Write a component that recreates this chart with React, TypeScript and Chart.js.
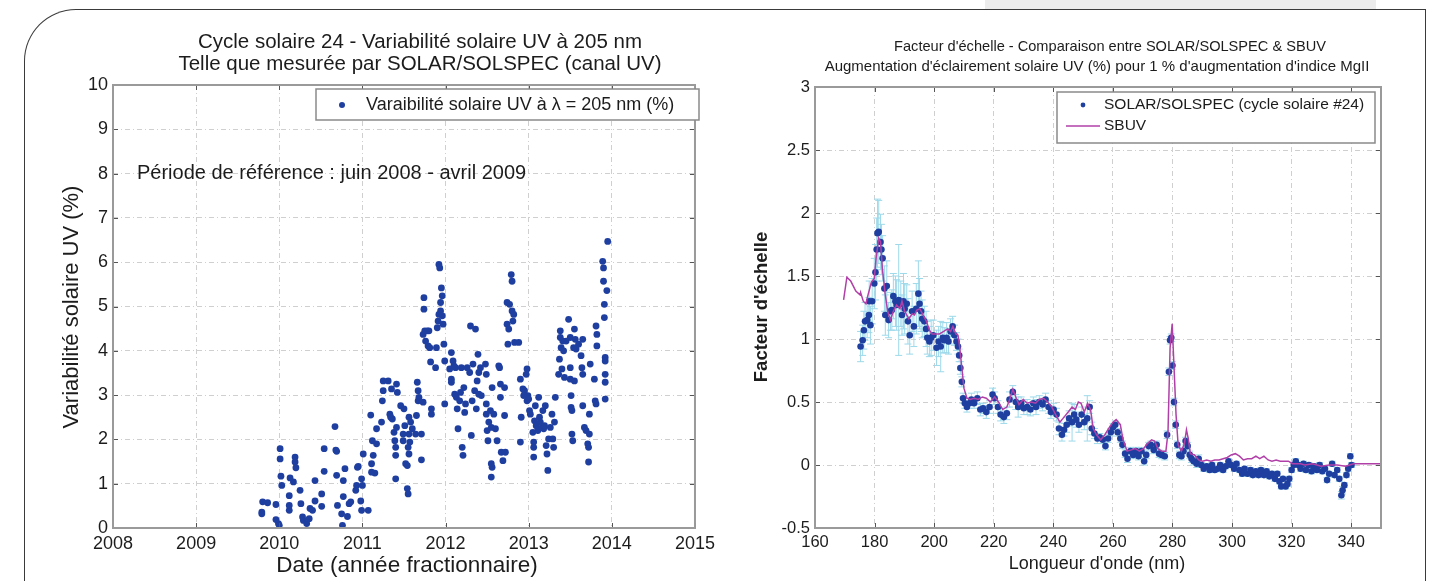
import React, { useEffect, useRef } from "react";
import { Chart, registerables } from "chart.js";
Chart.register(...registerables);

const FONT = '"Liberation Sans", Arial, Helvetica, sans-serif';

// ---------- Left chart data ----------
const leftTitle = ["Cycle solaire 24 - Variabilité solaire UV à 205 nm", "Telle que mesurée par SOLAR/SOLSPEC (canal UV)"];
const leftLegend = "Varaibilité solaire UV à λ = 205 nm (%)";
const leftNote = "Période de référence : juin 2008 - avril 2009";
const leftXTitle = "Date (année fractionnaire)";
const leftYTitle = "Variabilité solaire UV (%)";
const yearTicks = [2008, 2009, 2010, 2011, 2012, 2013, 2014, 2015];
const uvTicks = [0, 1, 2, 3, 4, 5, 6, 7, 8, 9, 10];

const uvSeries: [number, number][] = [
  [2009.79, 0.36], [2009.79, 0.32], [2009.8, 0.59], [2009.86, 0.57], [2009.96, 0.53], [2009.96, 0.19], [2009.99, 0.1], [2010.0, 0.06],
  [2010.01, 1.79], [2010.01, 1.56], [2010.02, 1.17], [2010.03, 0.96], [2010.12, 0.73], [2010.12, 0.51], [2010.12, 0.4], [2010.13, 1.13],
  [2010.17, 1.04], [2010.19, 1.6], [2010.19, 1.49], [2010.2, 1.36], [2010.25, 0.85], [2010.26, 0.55], [2010.28, 0.25], [2010.29, 0.17],
  [2010.33, 0.1], [2010.36, 0.21], [2010.37, 0.44], [2010.4, 0.4], [2010.43, 0.61], [2010.43, 1.07], [2010.51, 0.49], [2010.51, 0.77],
  [2010.54, 1.79], [2010.54, 1.28], [2010.67, 2.29], [2010.68, 1.76], [2010.69, 1.73], [2010.69, 1.19], [2010.7, 0.51], [2010.75, 0.32],
  [2010.76, 0.06], [2010.77, 0.71], [2010.77, 1.07], [2010.79, 1.34], [2010.82, 0.26], [2010.84, 0.55], [2010.86, 0.59], [2010.92, 0.85],
  [2010.93, 0.96], [2010.94, 1.37], [2010.95, 1.39], [2010.98, 0.61], [2010.99, 0.4], [2010.99, 1.11], [2011.0, 0.96], [2011.01, 1.67],
  [2011.07, 0.4], [2011.1, 2.55], [2011.11, 1.45], [2011.11, 1.26], [2011.12, 1.97], [2011.13, 1.64], [2011.15, 1.24], [2011.17, 1.9],
  [2011.17, 2.24], [2011.23, 2.39], [2011.24, 2.87], [2011.25, 3.32], [2011.25, 3.1], [2011.31, 3.32], [2011.33, 2.57], [2011.34, 2.5],
  [2011.35, 3.14], [2011.36, 2.46], [2011.38, 2.16], [2011.39, 1.97], [2011.4, 1.82], [2011.4, 1.64], [2011.4, 1.11], [2011.41, 2.27],
  [2011.41, 3.25], [2011.42, 3.06], [2011.46, 2.76], [2011.49, 2.12], [2011.49, 1.97], [2011.5, 2.69], [2011.51, 2.31], [2011.52, 1.45],
  [2011.54, 1.41], [2011.54, 0.89], [2011.55, 0.77], [2011.55, 1.82], [2011.56, 1.67], [2011.56, 2.5], [2011.56, 2.12], [2011.57, 1.94],
  [2011.58, 2.39], [2011.6, 2.24], [2011.64, 2.12], [2011.65, 2.54], [2011.66, 3.29], [2011.67, 3.1], [2011.67, 2.87], [2011.68, 2.95],
  [2011.71, 1.54], [2011.71, 2.12], [2011.73, 2.84], [2011.73, 4.37], [2011.74, 5.2], [2011.74, 4.94], [2011.75, 4.45], [2011.76, 4.22],
  [2011.78, 4.45], [2011.79, 4.11], [2011.8, 4.45], [2011.81, 4.07], [2011.82, 3.75], [2011.83, 2.57], [2011.83, 2.69], [2011.88, 3.62],
  [2011.89, 4.07], [2011.9, 4.52], [2011.91, 4.67], [2011.92, 4.82], [2011.92, 5.95], [2011.93, 5.87], [2011.94, 5.09], [2011.94, 4.9],
  [2011.95, 5.42], [2011.96, 5.24], [2011.96, 4.79], [2011.97, 4.6], [2011.98, 4.15], [2011.99, 2.8], [2011.99, 3.77], [2012.05, 3.59],
  [2012.07, 3.96], [2012.07, 3.36], [2012.07, 3.29], [2012.09, 3.77], [2012.1, 3.66], [2012.11, 3.02], [2012.12, 3.62], [2012.13, 2.95],
  [2012.14, 2.69], [2012.15, 2.24], [2012.17, 2.87], [2012.18, 3.06], [2012.19, 3.62], [2012.2, 1.82], [2012.21, 1.64], [2012.22, 3.17],
  [2012.23, 2.61], [2012.24, 2.8], [2012.26, 3.62], [2012.29, 3.51], [2012.3, 4.56], [2012.31, 2.09], [2012.32, 2.87], [2012.33, 3.7],
  [2012.35, 3.1], [2012.36, 4.49], [2012.37, 2.69], [2012.38, 3.32], [2012.39, 3.92], [2012.4, 3.51], [2012.4, 3.02], [2012.42, 3.62],
  [2012.43, 2.99], [2012.48, 3.7], [2012.49, 3.47], [2012.49, 2.8], [2012.49, 2.57], [2012.5, 2.2], [2012.51, 1.97], [2012.52, 2.39],
  [2012.54, 2.65], [2012.55, 2.27], [2012.55, 1.45], [2012.55, 1.15], [2012.56, 1.37], [2012.56, 3.17], [2012.58, 2.57], [2012.6, 2.24],
  [2012.62, 1.97], [2012.64, 3.66], [2012.65, 3.62], [2012.66, 2.95], [2012.66, 3.25], [2012.67, 1.71], [2012.69, 1.52], [2012.71, 3.17],
  [2012.71, 2.54], [2012.72, 1.71], [2012.74, 5.09], [2012.74, 4.6], [2012.75, 4.15], [2012.76, 4.49], [2012.77, 5.05], [2012.79, 5.72],
  [2012.8, 5.57], [2012.8, 4.9], [2012.81, 4.67], [2012.82, 4.82], [2012.83, 4.19], [2012.88, 4.19], [2012.9, 3.36], [2012.9, 1.94],
  [2012.91, 2.5], [2012.93, 3.14], [2012.94, 2.99], [2012.95, 3.1], [2012.97, 3.47], [2012.98, 3.59], [2012.98, 2.87], [2012.99, 2.99],
  [2013.0, 2.91], [2013.01, 2.65], [2013.02, 2.57], [2013.05, 2.16], [2013.06, 1.94], [2013.06, 1.82], [2013.06, 1.6], [2013.07, 2.42],
  [2013.08, 2.76], [2013.09, 2.31], [2013.11, 2.2], [2013.12, 2.95], [2013.13, 2.5], [2013.14, 2.39], [2013.16, 2.27], [2013.17, 2.65],
  [2013.18, 2.24], [2013.19, 2.31], [2013.2, 2.76], [2013.21, 1.86], [2013.22, 1.67], [2013.23, 1.3], [2013.24, 2.01], [2013.26, 2.27],
  [2013.28, 2.57], [2013.29, 2.01], [2013.3, 1.82], [2013.31, 2.39], [2013.32, 2.95], [2013.36, 3.47], [2013.37, 3.81], [2013.38, 4.45],
  [2013.38, 4.3], [2013.39, 4.07], [2013.4, 3.59], [2013.41, 4.22], [2013.42, 4.0], [2013.43, 3.4], [2013.45, 4.22], [2013.48, 4.71],
  [2013.5, 4.3], [2013.5, 3.62], [2013.5, 3.36], [2013.51, 2.99], [2013.51, 2.72], [2013.52, 2.65], [2013.52, 2.12], [2013.53, 1.97],
  [2013.54, 4.07], [2013.55, 3.32], [2013.55, 4.49], [2013.56, 4.26], [2013.57, 4.04], [2013.6, 4.15], [2013.63, 3.89], [2013.64, 3.62],
  [2013.65, 3.47], [2013.65, 4.26], [2013.65, 2.76], [2013.67, 2.27], [2013.69, 2.2], [2013.71, 1.9], [2013.72, 1.82], [2013.72, 1.49],
  [2013.73, 2.57], [2013.73, 2.12], [2013.74, 3.7], [2013.79, 3.36], [2013.8, 2.87], [2013.81, 2.8], [2013.81, 4.56], [2013.82, 4.37],
  [2013.82, 4.11], [2013.89, 6.02], [2013.9, 5.87], [2013.9, 5.57], [2013.91, 5.05], [2013.91, 4.75], [2013.92, 3.85], [2013.92, 3.77],
  [2013.92, 3.47], [2013.92, 3.29], [2013.92, 2.91], [2013.94, 5.36], [2013.95, 6.47],
];

// ---------- Right chart data ----------
const rightTitle = ["Facteur d'échelle - Comparaison entre SOLAR/SOLSPEC & SBUV", "Augmentation d'éclairement solaire UV (%) pour 1 % d'augmentation d'indice MgII"];
const rightLegend = ["SOLAR/SOLSPEC (cycle solaire #24)", "SBUV"];
const rightXTitle = "Longueur d'onde (nm)";
const rightYTitle = "Facteur d'échelle";
const nmTicks = [160, 180, 200, 220, 240, 260, 280, 300, 320, 340];
const factorTicks = [-0.5, 0, 0.5, 1, 1.5, 2, 2.5, 3];

// [wavelength nm, scale factor, error]
const solspecSeries: [number, number, number][] = [
  [175.3, 0.94, 0.12], [176.0, 0.99, 0.12], [176.4, 1.07, 0.15], [176.8, 1.14, 0.15], [177.5, 1.15, 0.14], [178.1, 1.19, 0.14],
  [178.2, 1.3, 0.16], [178.6, 1.11, 0.15], [179.2, 1.3, 0.18], [179.9, 1.44, 0.2], [180.3, 1.53, 0.22], [180.7, 1.71, 0.25],
  [181.0, 1.84, 0.27], [181.4, 1.85, 0.25], [182.0, 1.77, 0.22], [182.3, 1.71, 0.2], [182.7, 1.64, 0.18], [183.3, 1.4, 0.18],
  [183.6, 1.19, 0.16], [184.1, 1.42, 0.2], [184.7, 1.15, 0.14], [185.3, 1.22, 0.15], [185.8, 1.23, 0.16], [186.3, 1.34, 0.18],
  [187.0, 1.3, 0.2], [187.4, 1.27, 0.2], [188.1, 1.31, 0.44], [188.8, 1.28, 0.18], [189.2, 1.19, 0.16], [189.7, 1.3, 0.22],
  [190.1, 1.24, 0.2], [190.8, 1.28, 0.15], [191.2, 1.14, 0.18], [191.8, 1.03, 0.15], [192.6, 1.22, 0.16], [193.2, 1.1, 0.16],
  [194.0, 1.24, 0.2], [194.7, 1.36, 0.26], [195.1, 1.28, 0.2], [195.6, 1.22, 0.16], [196.0, 1.16, 0.15], [196.7, 1.14, 0.12],
  [197.3, 1.08, 0.14], [197.7, 1.01, 0.13], [198.4, 0.98, 0.12], [199.0, 1.01, 0.14], [199.7, 1.03, 0.12], [200.8, 0.93, 0.14],
  [201.5, 0.98, 0.12], [202.2, 0.94, 0.2], [202.9, 1.01, 0.12], [203.4, 0.99, 0.1], [204.2, 1.01, 0.12], [204.8, 0.98, 0.1],
  [205.5, 1.06, 0.1], [206.2, 1.1, 0.08], [206.8, 1.03, 0.08], [207.5, 0.98, 0.07], [208.0, 0.94, 0.06], [208.4, 0.87, 0.05],
  [208.8, 0.77, 0.05], [209.3, 0.66, 0.04], [209.7, 0.53, 0.04], [210.3, 0.49, 0.04], [211.0, 0.46, 0.04], [211.8, 0.49, 0.04],
  [212.5, 0.52, 0.05], [213.4, 0.49, 0.04], [214.5, 0.53, 0.05], [215.5, 0.44, 0.05], [216.4, 0.45, 0.04], [217.5, 0.42, 0.05],
  [218.6, 0.46, 0.05], [219.6, 0.56, 0.05], [220.3, 0.53, 0.05], [221.4, 0.46, 0.05], [222.3, 0.4, 0.05], [223.4, 0.38, 0.05],
  [224.4, 0.41, 0.05], [225.3, 0.52, 0.06], [226.4, 0.58, 0.05], [227.4, 0.5, 0.06], [228.2, 0.46, 0.08], [229.2, 0.49, 0.05],
  [230.1, 0.45, 0.05], [231.2, 0.46, 0.06], [232.3, 0.44, 0.05], [233.3, 0.49, 0.05], [234.2, 0.46, 0.06], [235.3, 0.5, 0.05],
  [236.4, 0.48, 0.05], [237.4, 0.52, 0.05], [238.4, 0.46, 0.05], [239.2, 0.42, 0.05], [240.1, 0.44, 0.05], [241.1, 0.4, 0.05],
  [241.9, 0.29, 0.05], [242.9, 0.24, 0.05], [243.6, 0.28, 0.05], [244.5, 0.32, 0.06], [245.3, 0.37, 0.06], [246.3, 0.34, 0.15],
  [247.0, 0.4, 0.08], [247.7, 0.36, 0.06], [248.6, 0.32, 0.06], [249.5, 0.4, 0.06], [250.4, 0.34, 0.06], [251.4, 0.37, 0.18],
  [252.2, 0.46, 0.05], [252.9, 0.29, 0.05], [253.8, 0.25, 0.04], [254.8, 0.21, 0.04], [255.6, 0.22, 0.03], [256.6, 0.2, 0.03],
  [257.5, 0.15, 0.03], [258.4, 0.21, 0.03], [259.3, 0.26, 0.03], [260.0, 0.3, 0.03], [260.8, 0.32, 0.03], [261.6, 0.26, 0.03],
  [262.5, 0.21, 0.03], [263.2, 0.16, 0.03], [264.1, 0.09, 0.03], [264.9, 0.05, 0.03], [265.9, 0.11, 0.03], [266.8, 0.08, 0.03],
  [267.8, 0.11, 0.03], [268.6, 0.07, 0.03], [269.6, 0.11, 0.03], [270.5, 0.03, 0.03], [271.2, 0.08, 0.03], [272.0, 0.15, 0.03],
  [272.7, 0.16, 0.03], [273.7, 0.12, 0.03], [274.7, 0.16, 0.03], [275.5, 0.09, 0.03], [276.4, 0.08, 0.03], [277.4, 0.07, 0.03],
  [278.2, 0.24, 0.03], [278.8, 0.74, 0.03], [279.2, 0.99, 0.03], [279.6, 1.01, 0.03], [280.0, 0.79, 0.03], [280.5, 0.5, 0.03],
  [281.1, 0.32, 0.03], [281.6, 0.16, 0.03], [282.3, 0.08, 0.03], [283.0, 0.07, 0.03], [283.7, 0.11, 0.03], [284.4, 0.19, 0.03],
  [285.1, 0.15, 0.03], [285.8, 0.08, 0.03], [286.4, 0.05, 0.03], [287.1, 0.03, 0.03], [288.1, 0.01, 0.03], [288.8, 0.05, 0.03],
  [289.7, 0.0, 0.02], [290.5, -0.03, 0.02], [291.5, -0.01, 0.02], [292.5, -0.04, 0.02], [293.3, 0.0, 0.02], [294.2, -0.04, 0.02],
  [295.2, -0.03, 0.02], [296.0, 0.0, 0.02], [297.0, -0.04, 0.02], [297.9, -0.01, 0.02], [298.8, 0.03, 0.02], [299.7, 0.0, 0.02],
  [300.7, -0.03, 0.02], [301.5, 0.01, 0.02], [302.5, -0.04, 0.02], [303.4, -0.07, 0.02], [304.2, -0.03, 0.02], [305.2, -0.07, 0.02],
  [306.2, -0.04, 0.02], [307.0, -0.08, 0.02], [308.0, -0.05, 0.02], [308.9, -0.08, 0.02], [309.7, -0.04, 0.02], [310.7, -0.08, 0.02],
  [311.6, -0.05, 0.02], [312.5, -0.09, 0.02], [313.4, -0.07, 0.02], [314.4, -0.11, 0.02], [315.2, -0.07, 0.02], [315.9, -0.13, 0.02],
  [316.5, -0.17, 0.02], [317.1, -0.11, 0.02], [318.0, -0.17, 0.02], [318.6, -0.15, 0.02], [319.2, -0.11, 0.02], [320.0, -0.04, 0.02],
  [320.7, 0.0, 0.02], [321.4, 0.03, 0.02], [322.3, 0.0, 0.02], [323.0, -0.03, 0.02], [324.0, 0.01, 0.02], [324.8, -0.04, 0.02],
  [325.8, 0.0, 0.02], [326.7, -0.05, 0.02], [327.5, -0.01, 0.02], [328.5, -0.04, 0.02], [329.4, 0.0, 0.02], [330.3, -0.05, 0.02],
  [331.2, -0.03, 0.02], [331.9, -0.12, 0.02], [332.6, -0.07, 0.02], [333.6, 0.01, 0.02], [334.4, -0.08, 0.02], [335.3, -0.04, 0.02],
  [336.0, -0.11, 0.02], [336.7, -0.24, 0.03], [337.1, -0.2, 0.03], [337.7, -0.16, 0.02], [338.4, -0.08, 0.02], [339.0, -0.03, 0.02],
  [339.7, 0.07, 0.02], [340.1, 0.0, 0.02],
];

const sbuvSeries: [number, number][] = [
  [169.6, 1.31], [170.7, 1.49], [172.0, 1.46], [173.7, 1.38], [175.1, 1.35], [175.3, 1.37], [176.2, 1.3], [177.1, 1.28],
  [177.8, 1.35], [178.9, 1.45], [179.9, 1.48], [180.5, 1.64], [181.4, 1.8], [182.0, 1.77], [182.6, 1.56], [183.6, 1.35],
  [184.4, 1.22], [185.3, 1.15], [186.3, 1.22], [187.4, 1.27], [188.5, 1.24], [189.2, 1.3], [190.1, 1.22], [191.5, 1.16],
  [192.6, 1.2], [193.4, 1.19], [194.2, 1.23], [195.2, 1.24], [196.3, 1.19], [197.4, 1.14], [198.4, 1.07], [199.3, 1.04],
  [200.4, 1.04], [201.8, 1.04], [203.2, 1.06], [204.5, 1.08], [205.5, 1.06], [206.3, 1.1], [207.3, 1.04], [208.0, 1.03],
  [208.6, 0.93], [209.3, 0.77], [210.0, 0.61], [211.0, 0.53], [212.1, 0.52], [213.4, 0.53], [214.8, 0.52], [216.2, 0.54],
  [217.5, 0.53], [218.9, 0.5], [220.3, 0.54], [221.6, 0.5], [223.0, 0.44], [224.4, 0.46], [225.5, 0.53], [226.4, 0.6],
  [227.4, 0.54], [228.5, 0.48], [229.9, 0.52], [231.2, 0.49], [232.6, 0.5], [234.0, 0.49], [235.3, 0.52], [236.7, 0.53],
  [238.1, 0.5], [239.5, 0.46], [240.8, 0.4], [242.2, 0.34], [243.6, 0.38], [245.0, 0.42], [246.3, 0.46], [247.4, 0.44],
  [248.4, 0.5], [249.3, 0.49], [250.4, 0.42], [251.5, 0.49], [252.5, 0.44], [253.4, 0.29], [254.5, 0.24], [255.9, 0.2],
  [257.3, 0.24], [258.6, 0.29], [260.0, 0.34], [261.1, 0.36], [262.5, 0.32], [263.4, 0.2], [264.8, 0.11], [266.2, 0.12],
  [267.5, 0.13], [268.9, 0.11], [270.3, 0.13], [271.6, 0.17], [273.0, 0.2], [274.0, 0.19], [275.1, 0.13], [276.4, 0.11],
  [277.8, 0.11], [278.5, 0.26], [279.2, 0.93], [279.9, 1.12], [280.5, 0.79], [281.2, 0.4], [281.9, 0.16], [283.0, 0.11],
  [284.0, 0.17], [284.7, 0.28], [285.3, 0.21], [286.0, 0.09], [287.4, 0.08], [288.8, 0.04], [290.1, 0.03], [291.5, 0.04],
  [292.9, 0.03], [294.2, 0.04], [295.6, 0.04], [297.0, 0.05], [298.4, 0.06], [299.7, 0.08], [301.1, 0.09], [302.5, 0.07],
  [303.8, 0.04], [305.2, 0.05], [306.6, 0.05], [308.0, 0.07], [309.3, 0.05], [310.7, 0.07], [312.1, 0.04], [313.4, 0.03],
  [314.8, 0.04], [316.2, 0.03], [317.5, 0.03], [318.9, 0.03], [320.3, 0.01], [321.6, 0.01], [323.0, 0.01], [324.4, 0.0],
  [327.1, 0.01], [329.9, -0.01], [332.6, 0.0], [335.3, 0.0], [338.1, -0.01], [340.8, 0.01], [343.6, 0.01], [346.3, 0.01],
  [350.0, 0.01],
];

// ---------- helpers ----------
const TEXT = "#1c1c1c";
function text(ctx: CanvasRenderingContext2D, s: string, x: number, y: number, size: number, align: CanvasTextAlign = "center", rot = 0, weight = "normal") {
  ctx.save();
  ctx.translate(x, y);
  ctx.rotate(rot);
  ctx.font = `${weight} ${size}px ${FONT}`;
  ctx.textAlign = align;
  ctx.textBaseline = "middle";
  ctx.fillStyle = TEXT;
  ctx.fillText(s, 0, 0);
  ctx.restore();
}

function drawBox(chart: any) {
  const { ctx, chartArea } = chart;
  const { left, right, top, bottom } = chartArea;
  const xs = chart.scales.x;
  const ys = chart.scales.y;
  ctx.save();
  ctx.strokeStyle = "#555";
  ctx.lineWidth = 1;
  ctx.beginPath();
  for (const t of xs.ticks) {
    const px = Math.round(xs.getPixelForValue(t.value)) + 0.5;
    ctx.moveTo(px, bottom); ctx.lineTo(px, bottom - 5);
    ctx.moveTo(px, top); ctx.lineTo(px, top + 5);
  }
  for (const t of ys.ticks) {
    const py = Math.round(ys.getPixelForValue(t.value)) + 0.5;
    ctx.moveTo(left, py); ctx.lineTo(left + 5, py);
    ctx.moveTo(right, py); ctx.lineTo(right - 5, py);
  }
  ctx.stroke();
  ctx.strokeStyle = "#9a9a9a";
  ctx.lineWidth = 2;
  ctx.strokeRect(left, top, right - left, bottom - top);
  ctx.restore();
}

function legendBox(ctx: CanvasRenderingContext2D, x: number, y: number, w: number, h: number) {
  ctx.save();
  ctx.fillStyle = "#ffffff";
  ctx.fillRect(x, y, w, h);
  ctx.strokeStyle = "#8a8a8a";
  ctx.lineWidth = 1.5;
  ctx.strokeRect(x, y, w, h);
  ctx.restore();
}

const GRID = { color: "#cfcfcf", lineWidth: 1, drawTicks: false };
const BORDER = { display: false, dash: [5, 3, 1, 3] };

export default function App() {
  const leftRef = useRef<HTMLCanvasElement>(null);
  const rightRef = useRef<HTMLCanvasElement>(null);

  useEffect(() => {
    const leftDecor = {
      id: "leftDecor",
      afterDatasetsDraw(chart: any) {
        const ctx = chart.ctx;
        drawBox(chart);
        text(ctx, leftTitle[0], 420, 42, 20.5);
        text(ctx, leftTitle[1], 420, 64, 20.5);
        legendBox(ctx, 316, 89, 383, 31);
        ctx.save();
        ctx.fillStyle = "#2040a0";
        ctx.beginPath(); ctx.arc(342, 105, 3, 0, Math.PI * 2); ctx.fill();
        ctx.restore();
        text(ctx, leftLegend, 366, 105, 18, "left");
        text(ctx, leftNote, 137, 173, 20, "left");
        text(ctx, leftYTitle, 72, 307, 22, "center", -Math.PI / 2);
        text(ctx, leftXTitle, 407, 566, 22.5);
      },
    };

    const left = new Chart(leftRef.current!, {
      type: "scatter",
      data: {
        datasets: [
          {
            data: uvSeries.map(([x, y]) => ({ x, y })),
            pointRadius: 3.4,
            pointBackgroundColor: "#1f3fa0",
            pointBorderWidth: 0,
          },
        ],
      },
      options: {
        animation: false,
        responsive: false,
        layout: { padding: { left: 0, right: 19, top: 85, bottom: 0 } },
        plugins: { legend: { display: false }, title: { display: false }, tooltip: { enabled: false } },
        scales: {
          x: {
            type: "linear",
            min: yearTicks[0],
            max: yearTicks[yearTicks.length - 1],
            afterBuildTicks: (s: any) => { s.ticks = yearTicks.map((v) => ({ value: v })); },
            afterFit: (s: any) => { s.height = 53; },
            ticks: { callback: (v: any) => String(v), font: { family: FONT, size: 18 }, color: TEXT, padding: 5, maxRotation: 0, autoSkip: false },
            grid: GRID,
            border: BORDER,
          },
          y: {
            type: "linear",
            min: 0,
            max: 10,
            afterBuildTicks: (s: any) => { s.ticks = uvTicks.map((v) => ({ value: v })); },
            afterFit: (s: any) => { s.width = 113; },
            ticks: { callback: (v: any) => String(v), font: { family: FONT, size: 18 }, color: TEXT, padding: 5, autoSkip: false },
            grid: GRID,
            border: BORDER,
          },
        },
      },
      plugins: [leftDecor],
    } as any);

    const OX = 720;
    const rightDecor = {
      id: "rightDecor",
      beforeDatasetsDraw(chart: any) {
        const { ctx } = chart;
        const xs = chart.scales.x;
        const ys = chart.scales.y;
        ctx.save();
        ctx.strokeStyle = "#9dd9ea";
        ctx.lineWidth = 1;
        ctx.beginPath();
        for (const [nm, v, e] of solspecSeries) {
          const px = xs.getPixelForValue(nm);
          const y1 = ys.getPixelForValue(v - e);
          const y2 = ys.getPixelForValue(v + e);
          ctx.moveTo(px, y1); ctx.lineTo(px, y2);
          ctx.moveTo(px - 3.5, y1); ctx.lineTo(px + 3.5, y1);
          ctx.moveTo(px - 3.5, y2); ctx.lineTo(px + 3.5, y2);
        }
        ctx.stroke();
        ctx.restore();
      },
      afterDatasetsDraw(chart: any) {
        const ctx = chart.ctx;
        drawBox(chart);
        text(ctx, rightTitle[0], 1110 - OX, 47, 14.6);
        text(ctx, rightTitle[1], 1097 - OX, 67, 15);
        legendBox(ctx, 1057 - OX, 92, 318, 51);
        ctx.save();
        ctx.fillStyle = "#2040a0";
        ctx.beginPath(); ctx.arc(1083 - OX, 105, 2.4, 0, Math.PI * 2); ctx.fill();
        ctx.strokeStyle = "#b040a8";
        ctx.lineWidth = 1.5;
        ctx.beginPath(); ctx.moveTo(1066 - OX, 126); ctx.lineTo(1100 - OX, 126); ctx.stroke();
        ctx.restore();
        text(ctx, rightLegend[0], 1104 - OX, 105, 15.5, "left");
        text(ctx, rightLegend[1], 1104 - OX, 126, 15.5, "left");
        text(ctx, rightYTitle, 762 - OX, 307, 18.5, "center", -Math.PI / 2, "bold");
        text(ctx, rightXTitle, 1097 - OX, 564, 18);
      },
    };

    const right = new Chart(rightRef.current!, {
      type: "scatter",
      data: {
        datasets: [
          {
            type: "line",
            data: sbuvSeries.map(([x, y]) => ({ x, y })),
            borderColor: "#b040a8",
            borderWidth: 1.5,
            pointRadius: 0,
            fill: false,
            tension: 0,
          },
          {
            data: solspecSeries.map(([x, y]) => ({ x, y })),
            pointRadius: 3.3,
            pointBackgroundColor: "#1f3fa0",
            pointBorderWidth: 0,
          },
        ],
      },
      options: {
        animation: false,
        responsive: false,
        layout: { padding: { left: 0, right: 61, top: 87, bottom: 0 } },
        plugins: { legend: { display: false }, title: { display: false }, tooltip: { enabled: false } },
        scales: {
          x: {
            type: "linear",
            min: 160,
            max: 350,
            afterBuildTicks: (s: any) => { s.ticks = nmTicks.map((v) => ({ value: v })); },
            afterFit: (s: any) => { s.height = 53; },
            ticks: { callback: (v: any) => String(v), font: { family: FONT, size: 16.5 }, color: TEXT, padding: 5, maxRotation: 0, autoSkip: false },
            grid: GRID,
            border: BORDER,
          },
          y: {
            type: "linear",
            min: -0.5,
            max: 3,
            afterBuildTicks: (s: any) => { s.ticks = factorTicks.map((v) => ({ value: v })); },
            afterFit: (s: any) => { s.width = 95; },
            ticks: { callback: (v: any) => String(v), font: { family: FONT, size: 16.5 }, color: TEXT, padding: 5, autoSkip: false },
            grid: GRID,
            border: BORDER,
          },
        },
      },
      plugins: [rightDecor],
    } as any);

    return () => {
      left.destroy();
      right.destroy();
    };
  }, []);

  return (
    <div style={{ position: "fixed", left: 0, top: 0, width: 1442, height: 581, overflow: "hidden", background: "#fff" }}>
      <div style={{ position: "absolute", left: 985, top: 0, width: 391, height: 9, background: "#ececec" }} />
      <div
        style={{
          position: "absolute",
          left: 24,
          top: 9,
          width: 1400,
          height: 640,
          borderLeft: "1.5px solid #3a3a3a",
          borderTop: "1.5px solid #3a3a3a",
          borderRight: "1.5px solid #3a3a3a",
          borderTopLeftRadius: 52,
        }}
      />
      <canvas ref={leftRef} width={720} height={581} style={{ position: "absolute", left: 0, top: 0 }} />
      <canvas ref={rightRef} width={722} height={581} style={{ position: "absolute", left: 720, top: 0 }} />
    </div>
  );
}
